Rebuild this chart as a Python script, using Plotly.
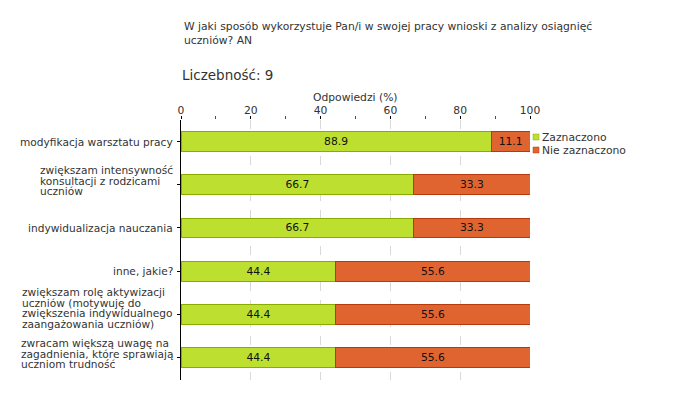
import plotly.graph_objects as go

categories = [
    "modyfikacja warsztatu pracy",
    "zwiększam intensywność<br>konsultacji z rodzicami<br>uczniów",
    "indywidualizacja nauczania",
    "inne, jakie?",
    "zwiększam rolę aktywizacji<br>uczniów (motywuję do<br>zwiększenia indywidualnego<br>zaangażowania uczniów)",
    "zwracam większą uwagę na<br>zagadnienia, które sprawiają<br>uczniom trudność",
]
zaznaczono = [88.9, 66.7, 66.7, 44.4, 44.4, 44.4]
nie_zaznaczono = [11.1, 33.3, 33.3, 55.6, 55.6, 55.6]
series_names = ["Zaznaczono", "Nie zaznaczono"]
tick_vals = [0, 20, 40, 60, 80, 100]

FONT = "DejaVu Sans"
FS = 10.75
FS_CAT = 10.6
TXT = "#333"
GREEN, GREEN_LINE = "#bde030", "#8aab00"
RED, RED_LINE = "#e06430", "#b83a0c"

# page has an 8px body margin: work in page pixels and subtract it
OFF = 8
W, H = 680 - OFF, 400 - OFF
PL, PR, PT, PB = 181, 530, 120, 380   # plot area in page pixels
L, T = PL - OFF, PT - OFF
R, B = W - (PR - OFF), H - (PB - OFF)
pw, ph = PR - PL, PB - PT

def px_y(py):
    return (PB - py) / ph

def px_x(px):
    return (px - PL) / pw

fig = go.Figure()
for vals, name, col, lcol in [(zaznaczono, series_names[0], GREEN, GREEN_LINE),
                              (nie_zaznaczono, series_names[1], RED, RED_LINE)]:
    fig.add_trace(go.Bar(
        y=categories, x=vals, name=name, orientation="h",
        marker=dict(color=col, line=dict(color=lcol, width=1)),
        text=[f"{v:.1f}" for v in vals], textposition="inside",
        insidetextanchor="middle", textfont=dict(color="#111", size=FS, family=FONT),
        width=0.46, showlegend=False,
    ))

annotations = []
# category labels: left-aligned blocks with tight line spacing
LINE_PX = 10.7
for c in categories:
    n = c.count("<br>") + 1
    inner = "<br>".join(f'<span style="font-size:{FS_CAT}px">{part}</span>' for part in c.split("<br>"))
    annotations.append(dict(
        text=inner, xref="paper", yref="y", x=px_x(175), y=c,
        xanchor="right", yanchor="middle", align="left", showarrow=False,
        yshift=2 * (n - 1),
        font=dict(size=LINE_PX / 1.3, color=TXT, family=FONT),
    ))

annotations += [
    dict(text="W jaki sposób wykorzystuje Pan/i w swojej pracy wnioski z analizy osiągnięć<br>uczniów? AN",
         xref="paper", yref="paper", x=px_x(182), y=px_y(18), xanchor="left", yanchor="top",
         align="left", showarrow=False, font=dict(size=FS, color=TXT)),
    dict(text="Liczebność: 9", xref="paper", yref="paper", x=px_x(180), y=px_y(75),
         xanchor="left", yanchor="middle", showarrow=False, font=dict(size=13.5, color=TXT)),
    dict(text="Odpowiedzi (%)", xref="paper", yref="paper", x=px_x(355), y=px_y(97),
         xanchor="center", yanchor="middle", showarrow=False, font=dict(size=FS, color=TXT)),
]

# manual legend
shapes = []
for i, (name, col, lcol) in enumerate([(series_names[0], GREEN, GREEN_LINE),
                                       (series_names[1], RED, RED_LINE)]):
    cy = 137 + 13 * i
    shapes.append(dict(type="rect", xref="paper", yref="paper",
                       x0=px_x(533), x1=px_x(539), y0=px_y(cy - 3), y1=px_y(cy + 3),
                       fillcolor=col, line=dict(color=lcol, width=0.5)))
    annotations.append(dict(text=name, xref="paper", yref="paper", x=px_x(540), y=px_y(cy),
                            xanchor="left", yanchor="middle", showarrow=False,
                            font=dict(size=FS, color=TXT)))

fig.update_layout(
    width=W, height=H, barmode="stack",
    margin=dict(l=L, r=R, t=T, b=B),
    paper_bgcolor="white", plot_bgcolor="white",
    font=dict(family=FONT, size=FS, color=TXT),
    showlegend=False,
    xaxis=dict(
        side="top", range=[0, 100], tickvals=tick_vals, ticks="outside",
        ticklen=3, tickcolor="black", showgrid=True, gridcolor="#d9d9d9",
        griddash="dash", zeroline=False, showline=False, automargin=False,
        tickfont=dict(size=FS, color=TXT), ticklabelstandoff=-2,
        minor=dict(dtick=10, ticks="outside", ticklen=3, tickcolor="red", showgrid=False),
    ),
    yaxis=dict(
        autorange="reversed", showline=True, linecolor="black", linewidth=1,
        ticks="outside", ticklen=3, tickcolor="black", showgrid=False,
        showticklabels=False, automargin=False,
    ),
    annotations=annotations,
    shapes=shapes,
)

fig.write_html("out.html")
